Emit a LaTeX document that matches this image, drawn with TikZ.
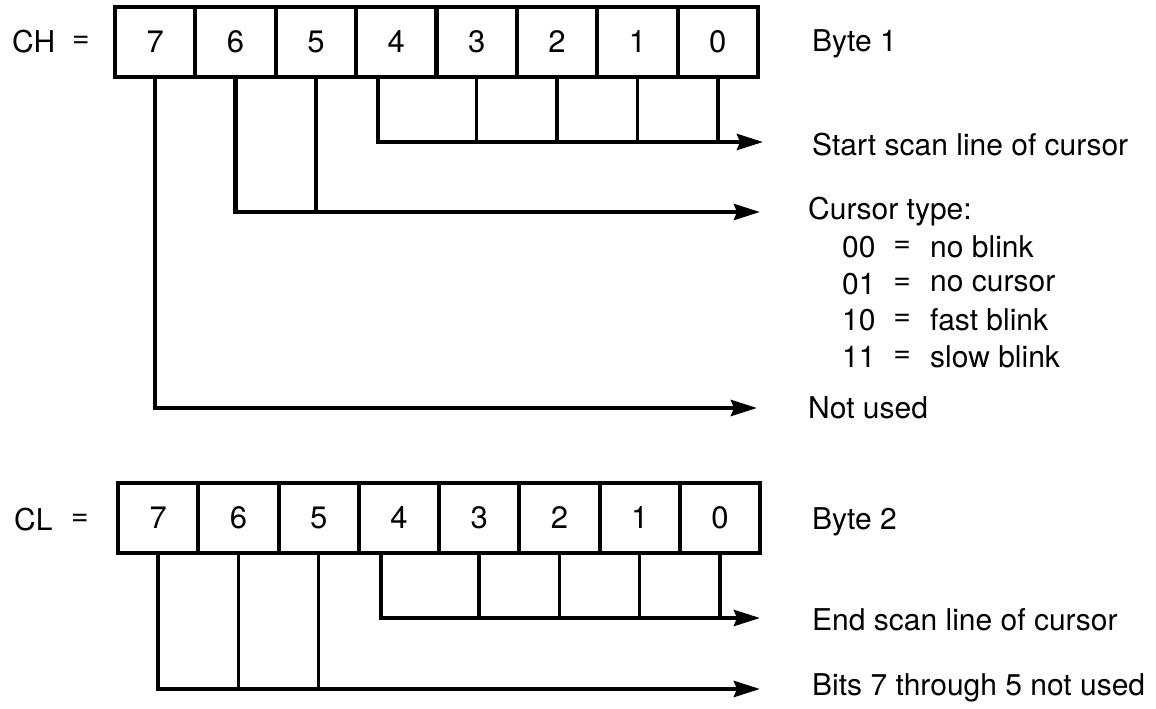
\documentclass[tikz,border=0pt]{standalone}
\usepackage{fontspec}
\setmainfont{TeX Gyre Heros}
\usetikzlibrary{arrows.meta,calc}
\newcommand{\lblfont}{\fontsize{30pt}{36pt}\selectfont}
\newcommand{\digfont}{\fontsize{31pt}{36pt}\selectfont}
\begin{document}
\begin{tikzpicture}[x=1pt,y=-1pt,
  cell/.style={draw, line width=4pt, minimum width=80.4pt, minimum height=70pt, inner sep=0pt, font=\digfont},
  stem/.style={line width=3.6pt},
  arr/.style={line width=4.2pt, -{Stealth[length=26pt,width=16pt,inset=3pt]}},
  lbl/.style={anchor=west, inner sep=0pt, font=\lblfont},
  eq/.style={inner sep=0pt, font=\lblfont}]
\useasboundingbox (0,0) rectangle (1156,709);
% ---- Byte 1 ----
\node[lbl] (chname) at (12,42) {CH};
\node[eq] (cheq) at (81,42) {=};
\foreach \b [count=\k from 0] in {7,6,5,4,3,2,1,0}
  \node[cell] (h\b) at ({115+80.375*(\k+0.5)},42) {\b};
\node[lbl] (byte1) at (812,44) {Byte 1};
\coordinate (e1) at (763,142);
\coordinate (e2) at (760,212);
\coordinate (e3) at (757,408);
\draw[arr] ([xshift=-18pt]h4.south) |- (e1);
\foreach \b in {3,2,1,0} \draw[stem] (h\b.south) -- (h\b.south |- e1);
\draw[arr] (h6.south) |- (e2);
\draw[stem] (h5.south) -- (h5.south |- e2);
\draw[arr] (h7.south) |- (e3);
\node[lbl] (start) at (812,145) {Start scan line of cursor};
\node[lbl] (ctype) at (808,212) {Cursor type:};
\foreach \n/\t/\y in {00/no blink/247, 01/no cursor/284, 10/fast blink/320, 11/slow blink/357}{
  \node[lbl] (n\n) at (842,\y) {\n};
  \node[eq] (q\n) at (902,\y) {=};
  \node[lbl] (t\n) at (930,\y) {\t};
}
\node[lbl] (notused) at (808,408) {Not used};
% ---- Byte 2 ----
\node[lbl] (clname) at (14,520) {CL};
\node[eq] (cleq) at (80,520) {=};
\foreach \b [count=\k from 0] in {7,6,5,4,3,2,1,0}
  \node[cell, minimum width=80.25pt] (l\b) at ({118+80.25*(\k+0.5)},518) {\b};
\node[lbl] (byte2) at (812,522) {Byte 2};
\coordinate (e4) at (760,618);
\coordinate (e5) at (760,689);
\draw[arr] ([xshift=-18pt]l4.south) |- (e4);
\foreach \b in {3,2,1,0} \draw[stem] (l\b.south) -- (l\b.south |- e4);
\draw[arr] (l7.south) |- (e5);
\foreach \b in {6,5} \draw[stem] (l\b.south) -- (l\b.south |- e5);
\node[lbl] (endscan) at (812,620) {End scan line of cursor};
\node[lbl] (bits) at (812,688) {Bits 7 through 5 not used};
\end{tikzpicture}
\end{document}
